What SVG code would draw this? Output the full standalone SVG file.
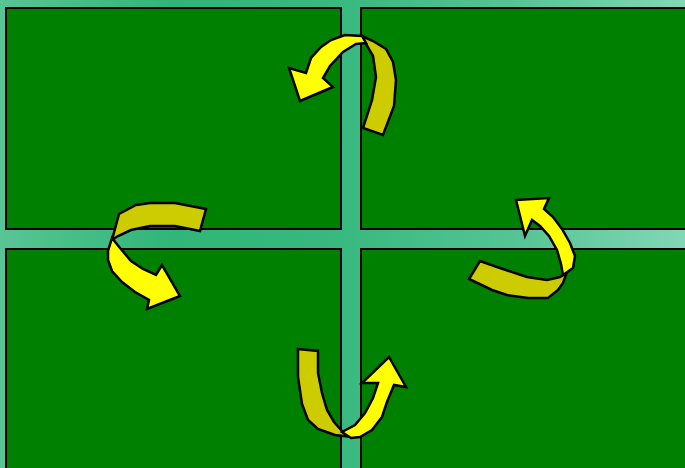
<svg xmlns="http://www.w3.org/2000/svg" width="685" height="468" viewBox="0 0 685 468">
<defs>
<linearGradient id="bg" gradientUnits="userSpaceOnUse" x1="0" y1="0" x2="685" y2="0">
<stop offset="0" stop-color="#58c594"/>
<stop offset="0.25" stop-color="#2fb678"/>
<stop offset="0.5" stop-color="#38b97f"/>
<stop offset="0.75" stop-color="#55c494"/>
<stop offset="1" stop-color="#82d7b6"/>
</linearGradient>
</defs>
<style>
.panel{fill:#008000;stroke:#000;stroke-width:2}
.front{fill:#ffff00;stroke:#000;stroke-width:2.5;stroke-linejoin:miter}
.back{fill:#cccc00;stroke:#000;stroke-width:2.5;stroke-linejoin:miter}
</style>
<rect x="0" y="0" width="685" height="468" fill="url(#bg)"/>
<g id="panel-tl"><rect class="panel" x="6" y="8" width="335" height="221"/></g>
<g id="panel-tr"><rect class="panel" x="361" y="8" width="340" height="221"/></g>
<g id="panel-bl"><rect class="panel" x="6" y="249" width="335" height="230"/></g>
<g id="panel-br"><rect class="panel" x="361" y="249" width="340" height="230"/></g>
<g id="connectors">
<g id="arrow-top">
<polygon class="back" points="362,36 373,41 386,49 393,62 396,80 394,106 383,135 363,128 372,100 376,77 373,56 366,44"/>
<polygon class="front" points="289,68 300,101 333,87 323,78 330,66 343,52 356,44 366,43 362,36 345,35 331,40 321,47 311,58 306,73"/>
</g>
<g id="arrow-left">
<polygon class="back" points="112,240 119,214 136,205 150,203 175,203 206,209 200,231 175,226 150,226 131,230 118,236"/>
<polygon class="front" points="112,238 120,248 131,261 143,269 156,275 162,265 180,296 147,309 149,300 135,292 122,282 112,271 108,260 108,251"/>
</g>
<g id="arrow-right">
<polygon class="back" points="480,261 497,267 527,277 547,280 560,277 567,272 563,283 558,290 548,298 528,298 507,295 492,290 469,279"/>
<polygon class="front" points="516,200 549,198 544,209 553,217 562,229 570,243 575,256 573,268 563,275 561,264 557,250 549,236 540,226 532,220 525,236"/>
</g>
<g id="arrow-bottom">
<polygon class="back" points="298,349 318,351 318,373 322,393 327,410 334,422 343,432 352,437 335,435 318,429 308,420 302,404 298,377"/>
<polygon class="front" points="342,432 355,425 365,413 373,398 378,383 362,383 389,357 406,387 394,385 387,402 382,417 372,430 360,437 351,438"/>
</g>
</g>
</svg>
